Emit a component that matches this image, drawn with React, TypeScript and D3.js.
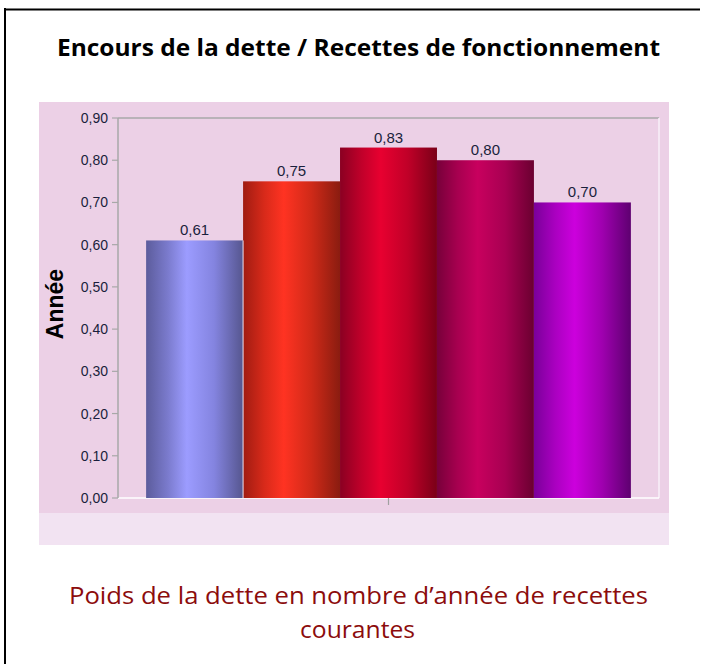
import React from "react";
import * as d3 from "d3";

const series = ["s1", "s2", "s3", "s4", "s5"];
const values = [0.61, 0.75, 0.83, 0.8, 0.7];
const valueLabels = ["0,61", "0,75", "0,83", "0,80", "0,70"];
const yTicks = [0, 0.1, 0.2, 0.3, 0.4, 0.5, 0.6, 0.7, 0.8, 0.9];
const barGradients = [
  ["#5C5C9C", "#7A7ACC", "#9C9CFF", "#8484E0", "#56568F"],
  ["#A01C12", "#D82A1A", "#FF3322", "#D02A18", "#8A1C10"],
  ["#8A0022", "#C0002A", "#E80030", "#C00028", "#7A0018"],
  ["#78003A", "#A80050", "#C8005E", "#A80052", "#6A0030"],
  ["#7A009A", "#AA00C0", "#CC00DD", "#A000B0", "#5E0070"],
];
const title = "Encours de la dette / Recettes de fonctionnement";
const subtitle1 = "Poids de la dette en nombre d\u2019année de recettes";
const subtitle2 = "courantes";
const yAxisTitle = "Année";

export default function App() {
  const W = 707;
  const H = 664;
  const plot = { left: 118, right: 659, top: 118, bottom: 498 };
  const y = d3.scaleLinear().domain([0, 0.9]).range([plot.bottom, plot.top]);
  const x = d3
    .scaleBand<string>()
    .domain(series)
    .range([plot.left, plot.right])
    .paddingInner(0)
    .paddingOuter(0.29);
  const fmt = (v: number) => d3.format(".2f")(v).replace(".", ",");
  const stopOffsets = [0, 0.22, 0.42, 0.7, 1];

  return (
    <svg
      width={W}
      height={H}
      style={{ position: "absolute", left: 0, top: 0, background: "#fff" }}
      fontFamily="'Liberation Sans', Arial, sans-serif"
    >
      <defs>
        {barGradients.map((cols, i) => (
          <linearGradient key={i} id={`g${i}`} x1="0" x2="1" y1="0" y2="0">
            {cols.map((c, j) => (
              <stop key={j} offset={stopOffsets[j]} stopColor={c} />
            ))}
          </linearGradient>
        ))}
      </defs>
      {/* outer frame */}
      <line x1={5} x2={5} y1={8} y2={H} stroke="#000" strokeWidth={2} />
      <line x1={4} x2={700} y1={9.5} y2={9.5} stroke="#000" strokeWidth={2} />

      <text
        x={358.5}
        y={56}
        textAnchor="middle"
        fontFamily="'Open Sans', sans-serif"
        fontWeight="bold"
        fontSize={24}
        textLength={603}
        lengthAdjust="spacingAndGlyphs"
        fill="#000"
      >
        {title}
      </text>

      {/* chart panel */}
      <rect x={39} y={102} width={630} height={411} fill="#ECD0E6" />
      <rect x={39} y={513} width={630} height={32} fill="#F2E3F2" />

      {/* plot frame */}
      <line x1={plot.left} x2={plot.right} y1={plot.top} y2={plot.top} stroke="#A8A8A8" strokeWidth={1.5} />
      <line x1={plot.right} x2={plot.right} y1={plot.top} y2={plot.bottom} stroke="#F8F0F8" strokeWidth={1.5} />
      <line x1={plot.left} x2={plot.right} y1={plot.bottom} y2={plot.bottom} stroke="#FFFFFF" strokeWidth={1.5} />
      <line x1={plot.left} x2={plot.left} y1={plot.top} y2={plot.bottom} stroke="#A8A8A8" strokeWidth={1.5} />

      {/* y ticks */}
      {yTicks.map((t) => (
        <g key={t}>
          <line x1={plot.left - 6} x2={plot.left} y1={y(t)} y2={y(t)} stroke="#A8A8A8" strokeWidth={1.2} />
          <text
            x={108}
            y={y(t)}
            dy="0.36em"
            textAnchor="end"
            fontSize={14}
            fill="#1A1F3C"
          >
            {fmt(t)}
          </text>
        </g>
      ))}

      {/* x tick */}
      <line
        x1={(plot.left + plot.right) / 2}
        x2={(plot.left + plot.right) / 2}
        y1={plot.bottom}
        y2={plot.bottom + 7}
        stroke="#A0A0A0"
        strokeWidth={1.2}
      />

      {/* bars */}
      {series.map((s, i) => (
        <g key={s}>
          <rect
            x={x(s)!}
            y={y(values[i])}
            width={x.bandwidth()}
            height={plot.bottom - y(values[i])}
            fill={`url(#g${i})`}
          />
          <text
            x={x(s)! + x.bandwidth() / 2}
            y={y(values[i]) - 5}
            textAnchor="middle"
            fontSize={15}
            fill="#1A1F3C"
          >
            {valueLabels[i]}
          </text>
        </g>
      ))}
      <line
        x1={x(series[1])!}
        x2={x(series[1])!}
        y1={y(values[0])}
        y2={plot.bottom}
        stroke="#E8E0F0"
        strokeWidth={1}
      />

      <text
        transform={`translate(63,304) rotate(-90)`}
        textAnchor="middle"
        fontFamily="'Liberation Sans', Arial, sans-serif"
        fontWeight="bold"
        fontSize={23}
        fill="#000"
      >
        {yAxisTitle}
      </text>

      <text
        x={358.5}
        y={604}
        textAnchor="middle"
        fontFamily="'Open Sans', sans-serif"
        fontSize={24}
        textLength={579}
        lengthAdjust="spacingAndGlyphs"
        fill="#8C0C0C"
      >
        {subtitle1}
      </text>
      <text
        x={357.5}
        y={638}
        textAnchor="middle"
        fontFamily="'Open Sans', sans-serif"
        fontSize={24}
        textLength={115}
        lengthAdjust="spacingAndGlyphs"
        fill="#8C0C0C"
      >
        {subtitle2}
      </text>
    </svg>
  );
}
